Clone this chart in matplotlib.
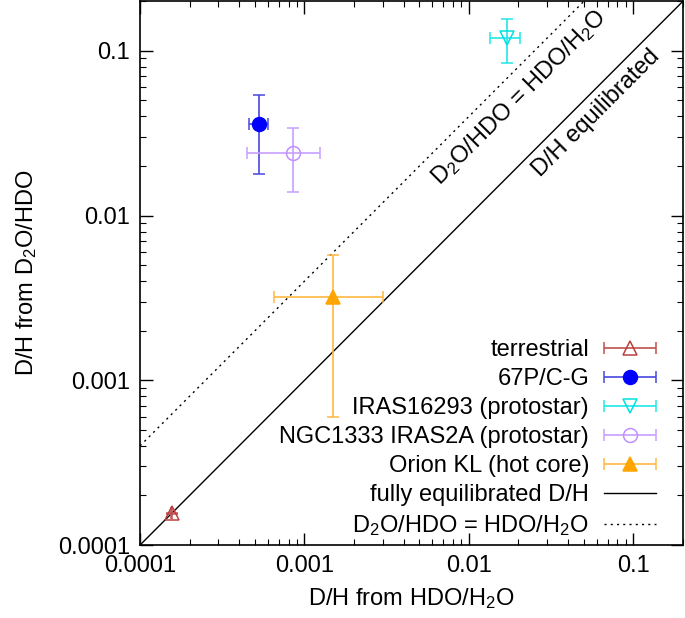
import numpy as np
import matplotlib
matplotlib.use("Agg")
import matplotlib.pyplot as plt
from matplotlib.ticker import LogLocator, FixedFormatter, FixedLocator, NullFormatter
from matplotlib.container import ErrorbarContainer
from matplotlib.legend_handler import HandlerErrorbar

plt.rcParams['font.family'] = ['Liberation Sans', 'DejaVu Sans']
plt.rcParams['mathtext.fontset'] = 'custom'
plt.rcParams['mathtext.rm'] = 'Liberation Sans'
plt.rcParams['mathtext.it'] = 'Liberation Sans'

# D/H from HDO/H2O (x) and D/H from D2O/HDO (y)
names = ["terrestrial", "67P/C-G", "IRAS16293 (protostar)",
         "NGC1333 IRAS2A (protostar)", "Orion KL (hot core)"]
x_val = [1.56e-4, 5.3e-4, 0.017, 8.5e-4, 1.5e-3]
x_lo = [0.01e-4, 0.7e-4, 0.0035, 4.0e-4, 0.85e-3]
x_hi = [0.01e-4, 0.7e-4, 0.0035, 4.0e-4, 1.5e-3]
y_val = [1.56e-4, 0.036, 0.12, 0.024, 3.2e-3]
y_lo = [0.01e-4, 0.018, 0.036, 0.010, 2.6e-3]
y_hi = [0.01e-4, 0.018, 0.036, 0.010, 2.6e-3]

colors = ["#b84040", "#0000ff", "#00e0e0", "#c090ff", "#ffa500"]
bar_colors = ["#c05050", "#4848e0", "#20e8e8", "#c8a0ff", "#ffb840"]
markers = ["^", "o", "v", "o", "^"]
filled = [False, True, False, False, True]

line_x = [1e-4, 0.2]

FS = 17

fig = plt.figure(figsize=(6.85, 6.18), dpi=100)
ax = fig.add_axes([0.2044, 0.118, 0.7926, 0.880])

handles = []
for i in range(len(names)):
    c = ax.errorbar([x_val[i]], [y_val[i]],
                    xerr=[[x_lo[i]], [x_hi[i]]], yerr=[[y_lo[i]], [y_hi[i]]],
                    fmt=markers[i], color=bar_colors[i], ecolor=bar_colors[i],
                    mec=colors[i], mfc=colors[i] if filled[i] else 'none',
                    ms=10, mew=1.1, elinewidth=1.2, capsize=4, capthick=1.2,
                    label=names[i], zorder=3)
    c.has_yerr = False  # legend shows only the horizontal bar
    handles.append(c)

l1, = ax.plot(line_x, line_x, color='black', lw=1.0, label="fully equilibrated D/H")
l2, = ax.plot(line_x, [4 * v for v in line_x], color='black', lw=1.0,
              ls=(0, (1.5, 3)), label=r"D$_2$O/HDO = HDO/H$_2$O")
handles += [l1, l2]

ax.set_xscale('log')
ax.set_yscale('log')
ax.set_xlim(1e-4, 0.2)
ax.set_ylim(1e-4, 0.2)

ticks = [1e-4, 1e-3, 1e-2, 1e-1]
tick_labels = ["0.0001", "0.001", "0.01", "0.1"]
for axis in (ax.xaxis, ax.yaxis):
    axis.set_major_locator(FixedLocator(ticks))
    axis.set_major_formatter(FixedFormatter(tick_labels))
    axis.set_minor_locator(LogLocator(base=10, subs=np.arange(2, 10), numticks=20))
    axis.set_minor_formatter(NullFormatter())
ax.tick_params(which='both', direction='in', top=True, right=True, labelsize=FS)
ax.tick_params(which='major', length=9, width=1.0, pad=7)
ax.tick_params(which='minor', length=4.5, width=0.8)
for s in ax.spines.values():
    s.set_linewidth(1.2)

ax.set_xlabel(r"D/H from HDO/H$_2$O", fontsize=FS, labelpad=7)
ax.set_ylabel(r"D/H from D$_2$O/HDO", fontsize=FS, labelpad=14)

ax.text(0.0201, 0.0519, r"D$_2$O/HDO = HDO/H$_2$O", rotation=45, fontsize=FS,
        ha='center', va='center', rotation_mode='anchor')
ax.text(0.0597, 0.042, "D/H equilibrated", rotation=45, fontsize=FS,
        ha='center', va='center', rotation_mode='anchor')

leg = ax.legend(handles=handles, loc='lower right', markerfirst=False,
                frameon=False, fontsize=FS, handlelength=2.2, handletextpad=0.64,
                labelspacing=0.3, borderaxespad=0.3, bbox_to_anchor=(0.981, -0.018),
                handler_map={ErrorbarContainer: HandlerErrorbar(xerr_size=1.1)})

fig.savefig("out.png", dpi=100)
